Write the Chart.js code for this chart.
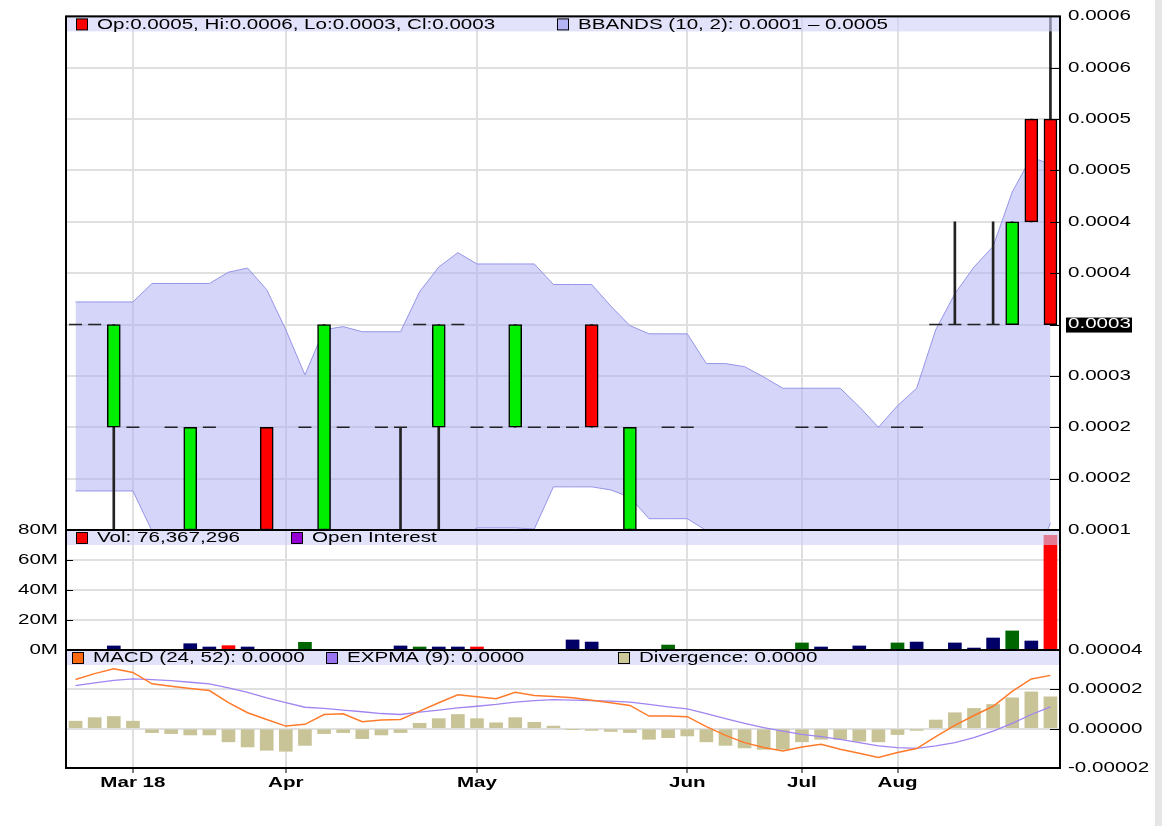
<!DOCTYPE html>
<html>
<head>
<meta charset="utf-8">
<title>Price / Volume / MACD</title>
<script src="https://cdn.jsdelivr.net/npm/chart.js@4.4.1/dist/chart.umd.min.js"></script>
<style>
  html, body { margin: 0; padding: 0; background: #fff; }
  #wrap { position: relative; width: 1162px; height: 826px; overflow: hidden; }
  #wrap canvas { position: absolute; left: 0; top: 0; }
  #strip { position: absolute; left: 1155px; top: 0; width: 7px; height: 826px; background: #e6e6e6; }
</style>
</head>
<body>
<div id="wrap">
  <canvas id="price" width="1162" height="826"></canvas>
  <canvas id="volume" width="1162" height="826"></canvas>
  <canvas id="macd" width="1162" height="826"></canvas>
  <div id="strip"></div>
</div>
<script>
// ---- data ----
const xLabels = [
  '', '', '', 'Mar 18', '', '', '', '', '', '',
  '', 'Apr', '', '', '', '', '', '', '', '',
  '', 'May', '', '', '', '', '', '', '', '',
  '', '', 'Jun', '', '', '', '', '', 'Jul', '',
  '', '', '', 'Aug', '', '', '', '', '', '',
  '', ''
];

const open = [
  0.0003, 0.0003, 0.0002, 0.0002, 0.0001, 0.0002, 0.0001, 0.0002, 0.0001, 0.0001,
  0.0002, 0.0001, 0.0002, 0.0001, 0.0002, 0.0001, 0.0002, 0.0002, 0.0003, 0.0002,
  0.0003, 0.0002, 0.0002, 0.0002, 0.0002, 0.0002, 0.0002, 0.0003, 0.0002, 0.0001,
  0.0001, 0.0002, 0.0002, 0.0001, 0.0001, 0.0001, 0.0001, 0.0001, 0.0002, 0.0002,
  0.0001, 0.0001, 0.0001, 0.0002, 0.0002, 0.0003, 0.0003, 0.0003, 0.0003, 0.0003,
  0.0005, 0.0005
];
const high = [
  0.0003, 0.0003, 0.0003, 0.0002, 0.0001, 0.0002, 0.0002, 0.0002, 0.0001, 0.0001,
  0.0002, 0.0001, 0.0002, 0.0003, 0.0002, 0.0001, 0.0002, 0.0002, 0.0003, 0.0003,
  0.0003, 0.0002, 0.0002, 0.0003, 0.0002, 0.0002, 0.0002, 0.0003, 0.0002, 0.0002,
  0.0001, 0.0002, 0.0002, 0.0001, 0.0001, 0.0001, 0.0001, 0.0001, 0.0002, 0.0002,
  0.0001, 0.0001, 0.0001, 0.0002, 0.0002, 0.0003, 0.0004, 0.0003, 0.0004, 0.0004,
  0.0005, 0.0006
];
const low = [
  0.0003, 0.0003, 0.0001, 0.0002, 0.0001, 0.0002, 0.0001, 0.0002, 0.0001, 0.0001,
  0.0001, 0.0001, 0.0002, 0.0001, 0.0002, 0.0001, 0.0002, 0.0001, 0.0003, 0.0001,
  0.0003, 0.0002, 0.0002, 0.0002, 0.0002, 0.0002, 0.0002, 0.0002, 0.0002, 0.0001,
  0.0001, 0.0002, 0.0002, 0.0001, 0.0001, 0.0001, 0.0001, 0.0001, 0.0002, 0.0002,
  0.0001, 0.0001, 0.0001, 0.0002, 0.0002, 0.0003, 0.0003, 0.0003, 0.0003, 0.0003,
  0.0004, 0.0003
];
const close = [
  0.0003, 0.0003, 0.0003, 0.0002, 0.0001, 0.0002, 0.0002, 0.0002, 0.0001, 0.0001,
  0.0001, 0.0001, 0.0002, 0.0003, 0.0002, 0.0001, 0.0002, 0.0002, 0.0003, 0.0003,
  0.0003, 0.0002, 0.0002, 0.0003, 0.0002, 0.0002, 0.0002, 0.0002, 0.0002, 0.0002,
  0.0001, 0.0002, 0.0002, 0.0001, 0.0001, 0.0001, 0.0001, 0.0001, 0.0002, 0.0002,
  0.0001, 0.0001, 0.0001, 0.0002, 0.0002, 0.0003, 0.0003, 0.0003, 0.0003, 0.0004,
  0.0004, 0.0003
];

const bbUpper = [
  0.000322, 0.000322, 0.000322, 0.000322, 0.000340, 0.000340, 0.000340, 0.000340, 0.000351, 0.000355,
  0.000334, 0.000295, 0.000251, 0.000295, 0.000298, 0.000293, 0.000293, 0.000293, 0.000332, 0.000356,
  0.000370, 0.000359, 0.000359, 0.000359, 0.000359, 0.000339, 0.000339, 0.000339, 0.000318, 0.000299,
  0.000291, 0.000291, 0.000291, 0.000262, 0.000262, 0.000259, 0.000249, 0.000238, 0.000238, 0.000238,
  0.000238, 0.000220, 0.000200, 0.000221, 0.000238, 0.000295, 0.000330, 0.000356, 0.000376, 0.000429,
  0.000463, 0.000456
];
const bbLower = [
  0.000138, 0.000138, 0.000138, 0.000138, 0.000099, 0.000080, 0.000070, 0.000060, 0.000050, 0.000050,
  0.000050, 0.000060, 0.000080, 0.000060, 0.000060, 0.000070, 0.000070, 0.000070, 0.000070, 0.000080,
  0.000090, 0.000102, 0.000102, 0.000102, 0.000101, 0.000142, 0.000142, 0.000142, 0.000139, 0.000132,
  0.000111, 0.000111, 0.000111, 0.0000995, 0.000080, 0.000070, 0.000070, 0.000070, 0.000070, 0.000070,
  0.000070, 0.000060, 0.000050, 0.000050, 0.000050, 0.000040, 0.000030, 0.000030, 0.000030, 0.000030,
  0.000056, 0.000107
];

const volume = [
  0, 0, 2700000, 0, 0, 0, 4200000, 2000000, 2900000, 2000000,
  0, 0, 5100000, 0, 0, 0, 0, 2700000, 2000000, 2000000,
  2000000, 2000000, 0, 0, 0, 0, 6700000, 5300000, 0, 0,
  0, 3300000, 0, 0, 0, 0, 0, 0, 4700000, 2000000,
  0, 2700000, 0, 4700000, 5300000, 0, 4700000, 1300000, 8000000, 12700000,
  6000000, 76367296
];

const macd = [
  25.0e-6, 28.0e-6, 30.5e-6, 28.6e-6, 22.8e-6, 21.6e-6, 20.4e-6, 19.4e-6, 13.2e-6, 8.1e-6,
  4.7e-6, 1.3e-6, 2.2e-6, 7.2e-6, 7.6e-6, 3.5e-6, 4.4e-6, 4.7e-6, 8.9e-6, 13.2e-6,
  17.2e-6, 16.2e-6, 15.2e-6, 18.5e-6, 16.9e-6, 16.3e-6, 15.7e-6, 14.5e-6, 13.2e-6, 11.8e-6,
  6.4e-6, 6.4e-6, 6.1e-6, 1.0e-6, -3.4e-6, -7.1e-6, -9.6e-6, -11.3e-6, -9.3e-6, -7.9e-6,
  -10.5e-6, -12.5e-6, -14.7e-6, -12.1e-6, -10.1e-6, -4.0e-6, 1.7e-6, 6.7e-6, 11.4e-6, 19.0e-6,
  25.3e-6, 27.1e-6
];
const expma = [
  21.9e-6, 23.3e-6, 24.6e-6, 25.3e-6, 24.9e-6, 24.4e-6, 23.6e-6, 22.8e-6, 20.7e-6, 18.5e-6,
  15.7e-6, 13.2e-6, 10.9e-6, 10.3e-6, 9.4e-6, 8.6e-6, 7.7e-6, 7.2e-6, 8.4e-6, 9.4e-6,
  10.6e-6, 11.4e-6, 12.3e-6, 13.5e-6, 14.3e-6, 14.8e-6, 14.5e-6, 14.3e-6, 14.0e-6, 13.5e-6,
  12.3e-6, 11.1e-6, 10.1e-6, 7.7e-6, 5.1e-6, 2.7e-6, 0.5e-6, -1.2e-6, -2.9e-6, -4.0e-6,
  -5.4e-6, -7.1e-6, -8.8e-6, -9.6e-6, -10.0e-6, -8.8e-6, -7.1e-6, -4.6e-6, -1.2e-6, 2.7e-6,
  7.2e-6, 11.1e-6
];
const divergence = [
  3.8e-6, 5.6e-6, 6.2e-6, 3.8e-6, -2.0e-6, -2.5e-6, -3.2e-6, -3.2e-6, -6.7e-6, -9.3e-6,
  -11.0e-6, -11.5e-6, -8.5e-6, -2.5e-6, -2.0e-6, -5.1e-6, -3.2e-6, -2.0e-6, 2.7e-6, 5.1e-6,
  7.2e-6, 5.1e-6, 3.0e-6, 5.6e-6, 3.2e-6, 1.3e-6, -0.4e-6, -0.9e-6, -1.4e-6, -2.0e-6,
  -5.4e-6, -4.6e-6, -3.7e-6, -6.7e-6, -8.5e-6, -9.8e-6, -10.5e-6, -10.5e-6, -6.7e-6, -5.4e-6,
  -5.4e-6, -6.4e-6, -6.7e-6, -3.0e-6, -0.9e-6, 4.4e-6, 8.1e-6, 10.3e-6, 12.3e-6, 15.7e-6,
  18.7e-6, 16.2e-6
];

const priceTicks = ['0.0001', '0.0002', '0.0002', '0.0003', '0.0003', '0.0004',
                    '0.0004', '0.0005', '0.0005', '0.0006', '0.0006'];
const volTicks = ['0M', '20M', '40M', '60M', '80M'];
const macdTicks = ['-0.00002', '0.00000', '0.00002', '0.00004'];

// ---- drawing ----
const last = close.length - 1;
const FONT = "'Liberation Sans', Arial, sans-serif";
const SX = 1.47;   // the picture's text is stretched sideways
const GRID = '#e0e0e0';

Chart.defaults.font.family = FONT;
Chart.defaults.font.size = 14;
Chart.defaults.color = '#000';

function stretchedContext(id) {
  const ctx = document.getElementById(id).getContext('2d');
  const fill = CanvasRenderingContext2D.prototype.fillText;
  ctx.fillText = function (text, x, y) {
    this.save();
    this.translate(x, y);
    this.scale(SX, 1);
    fill.call(this, text, 0, 0);
    this.restore();
  };
  return ctx;
}

function panel(cfg) {
  return {
    id: 'panel',
    beforeDraw(chart) {
      if (cfg.mark == null) return;
      const s = chart.scales.y;
      const y = s.getPixelForValue(cfg.mark);
      chart.ctx.fillStyle = '#000';
      chart.ctx.fillRect(s.left + 6, y - 7, 66, 15);
    },
    afterDatasetsDraw(chart) {
      const ctx = chart.ctx, a = chart.chartArea;
      ctx.save();
      ctx.fillStyle = 'rgba(206,206,248,0.6)';
      ctx.fillRect(a.left, a.top, a.right - a.left, 15);
      ctx.font = '14px ' + FONT;
      ctx.textBaseline = 'middle';
      ctx.textAlign = 'left';
      cfg.items.forEach(it => {
        ctx.fillStyle = it.color;
        ctx.fillRect(it.box, a.top + 2.5, 11, 11);
        ctx.strokeStyle = '#000';
        ctx.lineWidth = 1;
        ctx.strokeRect(it.box + 0.5, a.top + 2.5, 11, 11);
        ctx.fillStyle = '#000';
        ctx.fillText(it.text, it.box + 21, a.top + 8.5);
      });
      ctx.restore();
    },
    afterDraw(chart) {
      const ctx = chart.ctx, a = chart.chartArea, s = chart.scales.y;
      ctx.save();
      ctx.strokeStyle = '#000';
      ctx.lineWidth = 1;
      s.ticks.forEach((t, i) => {
        const y = Math.round(s.getPixelForTick(i)) + 0.5;
        ctx.beginPath();
        if (cfg.side === 'left') { ctx.moveTo(a.left, y); ctx.lineTo(a.left + 7, y); }
        else { ctx.moveTo(a.right - 10, y); ctx.lineTo(a.right, y); }
        ctx.stroke();
      });
      ctx.lineWidth = 2;
      ctx.strokeRect(a.left, a.top, a.right - a.left, a.bottom - a.top);
      ctx.restore();
    }
  };
}

function xAxis(showLabels) {
  return {
    offset: true,
    grid: {
      offset: false,
      color: c => xLabels[c.index] ? GRID : 'rgba(0,0,0,0)',
      lineWidth: 2,
      drawTicks: showLabels,
      tickLength: 5,
      tickColor: c => xLabels[c.index] ? '#000' : 'rgba(0,0,0,0)',
      tickWidth: 1
    },
    border: { display: false },
    ticks: {
      display: showLabels,
      autoSkip: false,
      maxRotation: 0,
      minRotation: 0,
      padding: 2,
      font: { weight: 'bold', size: 14 },
      color: '#000'
    },
    afterFit: s => { s.height = showLabels ? 30 : 0; }
  };
}

const common = {
  responsive: false,
  devicePixelRatio: 1,
  animation: false,
  events: [],
  plugins: { legend: { display: false }, tooltip: { enabled: false } }
};

// price panel
const wick = low.map((l, i) => high[i] > l ? [l, high[i]] : null);
const body = open.map((o, i) => o !== close[i] ? [o, close[i]] : null);
const flat = open.map((o, i) => o === close[i] ? o : null);

new Chart(stretchedContext('price'), {
  type: 'bar',
  data: {
    labels: xLabels,
    datasets: [
      { type: 'line', data: bbUpper, borderColor: 'rgba(140,140,232,0.9)', borderWidth: 1,
        pointRadius: 0, tension: 0, fill: false, order: 10 },
      { type: 'line', data: bbLower, borderColor: 'rgba(140,140,232,0.9)', borderWidth: 1,
        pointRadius: 0, tension: 0, fill: '-1', backgroundColor: 'rgba(172,172,244,0.5)', order: 10 },
      { data: wick, backgroundColor: '#222', barThickness: 2, grouped: false, order: 5 },
      { data: body, grouped: false, barThickness: 13, order: 4,
        backgroundColor: c => close[c.dataIndex] > open[c.dataIndex] ? '#00ee00' : '#ff0000',
        borderColor: '#000', borderWidth: 1.5, borderSkipped: false },
      { type: 'line', data: flat, showLine: false, pointStyle: 'line', pointRadius: 6.5,
        pointBorderColor: '#222', pointBorderWidth: 1.5, order: 3 }
    ]
  },
  options: Object.assign({}, common, {
    layout: { padding: { top: 13, bottom: 296, left: 66, right: 0 } },
    scales: {
      x: xAxis(false),
      y: {
        position: 'right',
        min: 0.0001,
        max: 0.0006,
        grid: { color: GRID, lineWidth: 2, drawTicks: false },
        border: { display: false },
        ticks: {
          stepSize: 0.00005,
          padding: 8,
          color: c => Math.abs(c.tick.value - close[last]) < 1e-9 ? '#fff' : '#000',
          callback: (v, i) => priceTicks[i]
        },
        afterFit: s => { s.width = 102; }
      }
    }
  }),
  plugins: [panel({
    mark: close[last],
    side: 'right',
    items: [
      { box: 76, color: '#ff0000',
        text: 'Op:' + open[last].toFixed(4) + ', Hi:' + high[last].toFixed(4) +
              ', Lo:' + low[last].toFixed(4) + ', Cl:' + close[last].toFixed(4) },
      { box: 557, color: '#b4b4f4',
        text: 'BBANDS (10, 2): ' + bbLower[last].toFixed(4) + ' \u2013 ' + bbUpper[last].toFixed(4) }
    ]
  })]
});

// volume panel
new Chart(stretchedContext('volume'), {
  type: 'bar',
  data: {
    labels: xLabels,
    datasets: [{
      data: volume.map(v => v || null),
      barThickness: 13,
      backgroundColor: c => {
        const i = c.dataIndex;
        if (i > 0 && close[i] > close[i - 1]) return '#006600';
        if (i > 0 && close[i] < close[i - 1]) return '#ff0000';
        return '#000066';
      }
    }]
  },
  options: Object.assign({}, common, {
    layout: { padding: { top: 530, bottom: 176, left: 0, right: 102 } },
    scales: {
      x: xAxis(false),
      y: {
        position: 'left',
        min: 0,
        max: 80000000,
        grid: { color: GRID, lineWidth: 2, drawTicks: false },
        border: { display: false },
        ticks: { stepSize: 20000000, padding: 8, callback: (v, i) => volTicks[i] },
        afterFit: s => { s.width = 66; }
      }
    }
  }),
  plugins: [panel({
    side: 'left',
    items: [
      { box: 76, color: '#ff0000', text: 'Vol: ' + volume[last].toLocaleString('en-US') },
      { box: 291, color: '#9400d3', text: 'Open Interest' }
    ]
  })]
});

// MACD panel
new Chart(stretchedContext('macd'), {
  type: 'bar',
  data: {
    labels: xLabels,
    datasets: [
      { type: 'line', data: macd, borderColor: '#ff7a2a', borderWidth: 1.5,
        pointRadius: 0, tension: 0, order: 1 },
      { type: 'line', data: expma, borderColor: '#a084f2', borderWidth: 1.3,
        pointRadius: 0, tension: 0, order: 2 },
      { data: divergence, backgroundColor: 'rgb(200,196,152)', barThickness: 13, order: 5 }
    ]
  },
  options: Object.assign({}, common, {
    layout: { padding: { top: 650, bottom: 28, left: 66, right: 0 } },
    scales: {
      x: xAxis(true),
      y: {
        position: 'right',
        min: -0.00002,
        max: 0.00004,
        grid: { color: GRID, lineWidth: 2, drawTicks: false },
        border: { display: false },
        ticks: { stepSize: 0.00002, padding: 8, callback: (v, i) => macdTicks[i] },
        afterFit: s => { s.width = 102; }
      }
    }
  }),
  plugins: [panel({
    side: 'right',
    items: [
      { box: 72, color: '#ff6a10', text: 'MACD (24, 52): ' + macd[last].toFixed(4) },
      { box: 326, color: '#9a74f0', text: 'EXPMA (9): ' + expma[last].toFixed(4) },
      { box: 618, color: '#cdc89c', text: 'Divergence: ' + divergence[last].toFixed(4) }
    ]
  })]
});
</script>
</body>
</html>
